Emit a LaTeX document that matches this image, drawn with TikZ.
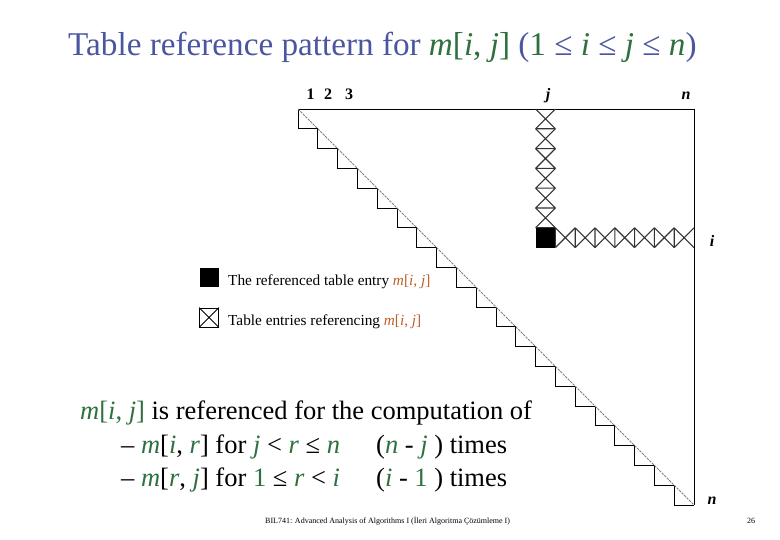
\documentclass[tikz,border=0pt]{standalone}
\usepackage{fontspec}
\setmainfont{Liberation Serif}
\usetikzlibrary{positioning}
\definecolor{ttlblue}{RGB}{75,85,160}
\definecolor{mgreen}{RGB}{46,112,64}
\definecolor{mbrown}{RGB}{190,95,40}
\newcommand{\gv}[1]{\textcolor{mgreen}{\textit{#1}}}
\newcommand{\bv}[1]{\textcolor{mbrown}{\textit{#1}}}
\tikzset{
  tline/.style={black, line width=0.9pt},
  diagline/.style={black!50, dash pattern=on 2.5pt off 1pt, line width=1pt},
  xcell/.style={black!80, line width=1.1pt},
  idx/.style={anchor=base, inner sep=0pt, font=\fontsize{16}{16}\selectfont\bfseries},
  txt/.style={anchor=base west, inner sep=0pt},
  keytxt/.style={txt, font=\fontsize{15.3}{16}\selectfont},
  bigtxt/.style={txt, font=\fontsize{26.5}{27}\selectfont},
}

\begin{document}
\begin{tikzpicture}[x=1pt, y=-1pt]
  \useasboundingbox (0,0) rectangle (780,540);
  \node[txt, font=\fontsize{33.2}{34}\selectfont, text=ttlblue] (title) at (68,56)
    {Table reference pattern for \gv{m}\textcolor{mgreen}{[}\gv{i}\textcolor{mgreen}{,} \gv{j}\textcolor{mgreen}{]} (\textcolor{mgreen}{1} ≤ \gv{i} ≤ \gv{j} ≤ \gv{n})};

  % the n x n table, one unit per cell
  \begin{scope}[shift={(298,109)}, x=19.8pt, y=-19.8pt]
    \draw[tline] (0,0) -- (20,0) -- (20,20);
    \draw[tline] (0,0) \foreach \k in {1,...,20} { -- ++(0,1) -- ++(1,0) };
    \draw[diagline] (0,0) -- (20,20);
    \foreach \r in {0,...,5}
      \draw[xcell] (12,\r) -- ++(1,1) (13,\r) -- ++(-1,1) (12,\r+1) -- ++(1,0);
    \fill (12,6) rectangle (13,7);
    \foreach \c in {13,...,19}
      \draw[xcell] (\c,6) -- ++(1,1) (\c+1,6) -- ++(-1,1) (\c,6) -- ++(0,1);
  \end{scope}

  \node[idx] (c1) at (310.5,100) {1};
  \node[idx] (c2) at (328,100) {2};
  \node[idx] (c3) at (349,100) {3};
  \node[idx, font=\fontsize{16}{16}\selectfont\bfseries\itshape] (cj) at (548,100) {j};
  \node[idx, font=\fontsize{16}{16}\selectfont\bfseries\itshape] (cn) at (686,100) {n};
  \node[idx, font=\fontsize{16}{16}\selectfont\bfseries\itshape] (ri) at (712,247) {i};
  \node[idx, font=\fontsize{16}{16}\selectfont\bfseries\itshape] (rn) at (712,504) {n};

  % legend
  \node[fill=black, minimum size=19pt, inner sep=0pt] (keyref) at (209,277.5) {};
  \node[draw, thick, minimum size=19pt, inner sep=0pt] (keyx) at (209,317.5) {};
  \draw[thick] (keyx.north west) -- (keyx.south east) (keyx.north east) -- (keyx.south west);
  \node[keytxt] (keyreftxt) at (228,286) {The referenced table entry \bv{m}\textcolor{mbrown}{[}\bv{i}\textcolor{mbrown}{,} \bv{j}\textcolor{mbrown}{]}};
  \node[keytxt] (keyxtxt) at (228,326) {Table entries referencing \bv{m}\textcolor{mbrown}{[}\bv{i}\textcolor{mbrown}{,} \bv{j}\textcolor{mbrown}{]}};

  \node[bigtxt] (line1) at (80,420) {\gv{m}\textcolor{mgreen}{[}\gv{i}\textcolor{mgreen}{,} \gv{j}\textcolor{mgreen}{]} is referenced for the computation of};
  \node[bigtxt] (line2) at (121,453) {– \gv{m}[\gv{i}, \gv{r}] for \gv{j} < \gv{r} ≤ \gv{n}};
  \node[bigtxt] (line2b) at (376,453) {(\gv{n} - \gv{j} ) times};
  \node[bigtxt] (line3) at (121,486) {– \gv{m}[\gv{r}, \gv{j}] for \textcolor{mgreen}{1} ≤ \gv{r} < \gv{i}};
  \node[bigtxt] (line3b) at (376,486) {(\gv{i} - \textcolor{mgreen}{1} ) times};

  \node[txt, font=\fontsize{8}{8}\selectfont] (foot) at (265,523) {BIL741: Advanced Analysis of Algorithms I (İleri Algoritma Çözümleme I)};
  \node[txt, font=\fontsize{8}{8}\selectfont] (page) at (747,523) {26};
\end{tikzpicture}
\end{document}
